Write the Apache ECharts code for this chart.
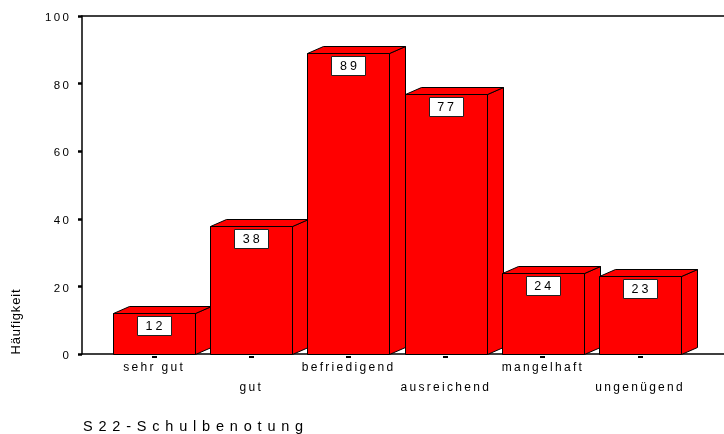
<!DOCTYPE html>
<html>
<head>
<meta charset="utf-8">
<script src="https://cdn.jsdelivr.net/npm/echarts@6/dist/echarts.min.js"></script>
<style>
  html, body { margin: 0; padding: 0; background: #fff; }
  #chart { width: 724px; height: 434px; }
</style>
</head>
<body>
<div id="chart"></div>
<script>
// Grade distribution (S22)
const categories = ['sehr gut', 'gut', 'befriedigend', 'ausreichend', 'mangelhaft', 'ungenügend'];
const counts = [12, 38, 89, 77, 24, 23];
const yTicks = [0, 20, 40, 60, 80, 100];
const yAxisTitle = 'Häufigkeit';
const xAxisTitle = 'S22-Schulbenotung';

// Layout / style constants
const FONT_FAMILY = '"Liberation Sans", Arial, sans-serif';
const X_MIN = -0.741;
const X_MAX = 5.864;
const BAR_RATIO = 0.844;     // front face width relative to category step
const DEPTH_X = 16;          // 3D depth offset (px)
const DEPTH_Y = 7;
const BAR_RED = '#ff0000';
const TEXT_COLOR = '#000';

const measureCtx = document.createElement('canvas').getContext('2d');
function glyphWidth(ch, size) {
  measureCtx.font = size + 'px ' + FONT_FAMILY;
  return measureCtx.measureText(ch).width;
}

// snap to pixel centre so 1px outlines stay crisp
function crisp(v) { return Math.round(v) + 0.5; }

// A row of glyphs placed one by one to get the wide tracking of the labels
function trackedText(str, size, spacing, color) {
  const chars = Array.from(str);
  const widths = chars.map(c => glyphWidth(c, size));
  let x = 0;
  const children = chars.map((c, i) => {
    const el = {
      type: 'text', x: x, y: 0, silent: true,
      style: { text: c, font: size + 'px ' + FONT_FAMILY, fill: color, align: 'left', verticalAlign: 'middle' }
    };
    x += widths[i] + spacing;
    return el;
  });
  return { children: children, width: x - spacing };
}

function centeredText(str, cx, cy, size, spacing, color) {
  const t = trackedText(str, size, spacing, color);
  return { type: 'group', x: cx - t.width / 2, y: cy, children: t.children };
}

const chart = echarts.init(document.getElementById('chart'), null, { renderer: 'canvas' });

const yTitle = trackedText(yAxisTitle, 13, 0.8, TEXT_COLOR);
const xTitle = trackedText(xAxisTitle, 14.5, 5.8, TEXT_COLOR);

const option = {
  animation: false,
  backgroundColor: '#fff',
  grid: { left: 82, right: 0, top: 16, bottom: 80 },
  xAxis: [
    {
      type: 'value', min: X_MIN, max: X_MAX, position: 'bottom',
      axisLine: { show: true, onZero: false, lineStyle: { color: '#000', width: 1.5 } },
      axisTick: { show: false }, axisLabel: { show: false }, splitLine: { show: false }
    },
    {
      type: 'value', min: X_MIN, max: X_MAX, position: 'top',
      axisLine: { show: true, onZero: false, lineStyle: { color: '#000', width: 1.5 } },
      axisTick: { show: false }, axisLabel: { show: false }, splitLine: { show: false }
    }
  ],
  yAxis: {
    type: 'value', min: 0, max: 100, interval: 20, position: 'left',
    axisLine: { show: true, onZero: false, lineStyle: { color: '#000', width: 1.5 } },
    axisTick: { show: true, length: 4, lineStyle: { color: '#000', width: 2.5 } },
    axisLabel: { show: false },
    splitLine: { show: false }
  },
  graphic: [
    {
      type: 'group', x: 16, y: 322 + yTitle.width / 2, rotation: Math.PI / 2,
      children: yTitle.children
    },
    {
      type: 'group', x: 83, y: 427, children: xTitle.children
    }
  ],
  series: [
    {
      // 3D bars with value boxes
      type: 'custom',
      clip: false,
      silent: true,
      data: counts.map((v, i) => [i, v]),
      renderItem: function (params, api) {
        const i = api.value(0);
        const v = api.value(1);
        const base = api.coord([i, 0]);
        const top = api.coord([i, v]);
        const w = api.size([1, 0])[0] * BAR_RATIO;
        const x0 = crisp(base[0] - w / 2), x1 = crisp(base[0] + w / 2);
        const yb = crisp(base[1]), yt = crisp(top[1]);
        const face = { fill: BAR_RED, stroke: '#000', lineWidth: 1 };
        const boxW = 34, boxH = 19;
        const boxTop = crisp(yt + 2), boxLeft = crisp(base[0] - boxW / 2);
        return {
          type: 'group',
          children: [
            { type: 'polygon', shape: { points: [[x1, yt], [x1 + DEPTH_X, yt - DEPTH_Y], [x1 + DEPTH_X, yb - DEPTH_Y], [x1, yb]] }, style: face },
            { type: 'polygon', shape: { points: [[x0, yt], [x0 + DEPTH_X, yt - DEPTH_Y], [x1 + DEPTH_X, yt - DEPTH_Y], [x1, yt]] }, style: face },
            { type: 'rect', shape: { x: x0, y: yt, width: x1 - x0, height: yb - yt }, style: face },
            { type: 'rect', shape: { x: boxLeft, y: boxTop, width: boxW, height: boxH }, style: { fill: '#fff', stroke: '#222', lineWidth: 1 } },
            centeredText(String(v), base[0], boxTop + boxH / 2 + 0.5, 12.5, 3, TEXT_COLOR)
          ]
        };
      }
    },
    {
      // category tick marks and staggered category labels
      type: 'custom',
      clip: false,
      silent: true,
      data: categories.map((c, i) => [i, 0]),
      renderItem: function (params, api) {
        const i = api.value(0);
        const p = api.coord([i, 0]);
        const rowY = (i % 2 === 0) ? p[1] + 14 : p[1] + 34;
        return {
          type: 'group',
          children: [
            { type: 'rect', shape: { x: Math.round(p[0] - 2.5), y: Math.round(p[1] + 2), width: 5, height: 2 }, style: { fill: '#000' } },
            centeredText(categories[params.dataIndex], p[0] - 1, rowY, 12, 2.3, TEXT_COLOR)
          ]
        };
      }
    },
    {
      // y tick labels
      type: 'custom',
      clip: false,
      silent: true,
      data: yTicks.map(v => [X_MIN, v]),
      renderItem: function (params, api) {
        const p = api.coord([X_MIN, api.value(1)]);
        const t = trackedText(String(yTicks[params.dataIndex]), 11.5, 2.4, TEXT_COLOR);
        return { type: 'group', x: p[0] - 13 - t.width, y: p[1] + 2, children: t.children };
      }
    }
  ]
};

chart.setOption(option);
</script>
</body>
</html>
